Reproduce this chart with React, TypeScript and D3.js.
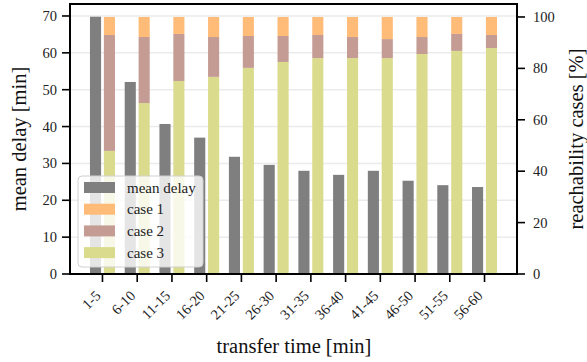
import React from 'react';
import * as d3 from 'd3';

const categories = ['1-5', '6-10', '11-15', '16-20', '21-25', '26-30', '31-35', '36-40', '41-45', '46-50', '51-55', '56-60'];
const meanDelay = [69.8, 52.1, 40.7, 37.0, 31.8, 29.6, 28.0, 26.9, 28.0, 25.3, 24.1, 23.6];
const case3 = [47.9, 66.5, 75.1, 76.7, 80.2, 82.5, 84.0, 84.0, 84.0, 85.6, 86.8, 87.9];
const case2 = [45.1, 25.7, 18.3, 15.5, 12.4, 10.1, 9.0, 8.2, 7.4, 6.6, 6.6, 5.1];
const case1 = case3.map((v, i) => 100 - v - case2[i]);
const leftTicks = [0, 10, 20, 30, 40, 50, 60, 70];
const rightTicks = [0, 20, 40, 60, 80, 100];
const legendItems = ['mean delay', 'case 1', 'case 2', 'case 3'];

const colors: Record<string, string> = { delay: '#7f7f7f', case1: '#ffbb78', case2: '#c49c94', case3: '#dbdb8d' };
const font = 'Liberation Serif';

const width = 587;
const height = 362;
const margin = { top: 4, right: 70, bottom: 88, left: 70 };
const plotRight = width - margin.right;
const plotBottom = height - margin.bottom;

const App = () => {
  const x = d3.scaleLinear()
    .domain([-0.935, categories.length - 1 + 0.935])
    .range([margin.left, plotRight]);
  const yL = d3.scaleLinear().domain([0, 73.25]).range([plotBottom, margin.top]);
  const yR = d3.scaleLinear().domain([0, 105.05]).range([plotBottom, margin.top]);

  const barW = x(0.32) - x(0);
  const off = 0.2;

  const rows = categories.map((c, i) => ({ case3: case3[i], case2: case2[i], case1: case1[i] }));
  const stack = d3.stack<any>().keys(['case3', 'case2', 'case1'])(rows);
  const legendColors = [colors.delay, colors.case1, colors.case2, colors.case3];
  const txt = { fontFamily: font };

  return (
    <svg width={width} height={height}
      style={{ position: 'absolute', left: 0, top: 0, background: '#fff' }}>
      {/* grid */}
      {leftTicks.slice(1).map(t => (
        <line key={t} x1={margin.left} x2={plotRight} y1={yL(t)} y2={yL(t)}
          stroke="#ebebeb" strokeWidth={1.5} />
      ))}

      {/* mean delay bars */}
      {meanDelay.map((d, i) => (
        <rect key={i} x={x(i - off) - barW / 2} width={barW} y={yL(d)} height={yL(0) - yL(d)}
          fill={colors.delay} />
      ))}

      {/* stacked reachability bars */}
      {stack.map(s => (
        <g key={s.key} fill={colors[s.key]}>
          {s.map((d, i) => (
            <rect key={i} x={x(i + off) - barW / 2} width={barW} y={yR(d[1])} height={yR(d[0]) - yR(d[1])} />
          ))}
        </g>
      ))}

      {/* left axis */}
      {leftTicks.map(t => (
        <g key={t}>
          <line x1={margin.left - 8} x2={margin.left} y1={yL(t)} y2={yL(t)} stroke="#000" strokeWidth={1.6} />
          <text x={margin.left - 13} y={yL(t)} dy="0.35em" textAnchor="end" fontSize={14.5} fill="#222" style={txt}>{t}</text>
        </g>
      ))}

      {/* right axis */}
      {rightTicks.map(t => (
        <g key={t}>
          <line x1={plotRight} x2={plotRight + 8} y1={yR(t)} y2={yR(t)} stroke="#000" strokeWidth={1.6} />
          <text x={plotRight + 16} y={yR(t)} dy="0.35em" textAnchor="start" fontSize={14.5} fill="#222" style={txt}>{t}</text>
        </g>
      ))}

      {/* bottom axis */}
      {categories.map((c, i) => (
        <g key={c}>
          <line x1={x(i)} x2={x(i)} y1={plotBottom} y2={plotBottom + 8} stroke="#000" strokeWidth={1.6} />
          <text transform={`translate(${x(i) - 4.5},${plotBottom + 19}) rotate(-45)`} dy="0.35em"
            textAnchor="end" fontSize={14.5} fill="#222" style={txt}>{c}</text>
        </g>
      ))}

      {/* frame */}
      <rect x={margin.left} y={margin.top} width={plotRight - margin.left} height={plotBottom - margin.top}
        fill="none" stroke="#000" strokeWidth={2} />

      {/* axis titles */}
      <text x={294} y={353} textAnchor="middle" fontSize={20.5} fill="#111" style={txt}>transfer time [min]</text>
      <text transform={`translate(26,${(margin.top + plotBottom) / 2}) rotate(-90)`} textAnchor="middle"
        fontSize={20.5} fill="#111" style={txt}>mean delay [min]</text>
      <text transform={`translate(583,${(margin.top + plotBottom) / 2}) rotate(-90)`} textAnchor="middle"
        fontSize={20.5} fill="#111" style={txt}>reachability cases [%]</text>

      {/* legend */}
      <g>
        <rect x={78} y={176} width={125} height={91} rx={4} fill="#fff" fillOpacity={0.8}
          stroke="#d0d0d0" strokeWidth={1} />
        {legendItems.map((label, i) => {
          const cy = 187.5 + i * 21.7;
          return (
            <g key={label}>
              <rect x={84} y={cy - 5.5} width={31} height={11} fill={legendColors[i]} />
              <text x={127} y={cy + 5} fontSize={15} fill="#222" style={txt}>{label}</text>
            </g>
          );
        })}
      </g>
    </svg>
  );
};

export default App;
